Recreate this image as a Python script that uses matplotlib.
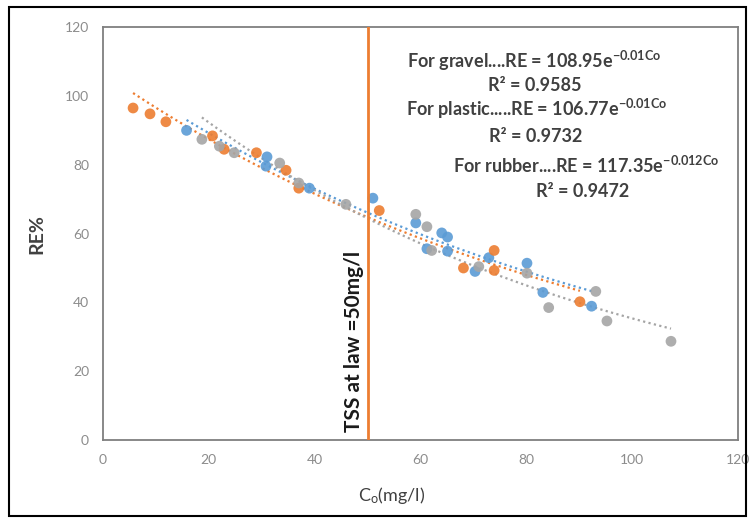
import numpy as np
import matplotlib.pyplot as plt
from matplotlib.patches import Rectangle

plt.rcParams['font.family'] = ['Lato', 'DejaVu Sans']
plt.rcParams['mathtext.default'] = 'regular'

# data
gravel_x = [15.8, 30.8, 31.0, 39.0, 51.0, 59.1, 61.2, 64.0, 65.1, 65.1, 70.3, 72.9, 80.1, 83.1, 92.3]
gravel_y = [90.0, 79.6, 82.3, 73.2, 70.3, 63.1, 55.6, 60.2, 59.0, 54.9, 49.0, 53.0, 51.4, 42.9, 38.9]

plastic_x = [5.7, 8.9, 11.9, 20.7, 22.9, 29.0, 34.6, 37.0, 52.2, 68.1, 73.9, 73.9, 90.1]
plastic_y = [96.5, 94.8, 92.5, 88.4, 84.5, 83.5, 78.4, 73.2, 66.7, 50.0, 55.1, 49.3, 40.2]

rubber_x = [18.7, 22.0, 24.8, 33.4, 37.0, 45.9, 59.1, 61.2, 62.1, 71.0, 80.1, 84.2, 93.1, 95.2, 107.3]
rubber_y = [87.4, 85.4, 83.5, 80.5, 74.7, 68.5, 65.6, 62.0, 55.1, 50.4, 48.5, 38.5, 43.2, 34.6, 28.7]

# exponential trendlines RE = a*exp(b*Co)
fit_a = [108.95, 106.77, 117.35]
fit_b = [-0.01, -0.01, -0.012]
r2 = ['0.9585', '0.9732', '0.9472']

ticks = [0, 20, 40, 60, 80, 100, 120]
tss_limit = 50

colors = ['#5B9BD5', '#ED7D31', '#A5A5A5']

fig = plt.figure(figsize=(7.51, 5.22), dpi=100)
ax = fig.add_axes([0.137, 0.157, 0.846, 0.791])

series = [(gravel_x, gravel_y), (plastic_x, plastic_y), (rubber_x, rubber_y)]
for (xs, ys), a, b, c in zip(series, fit_a, fit_b, colors):
    xx = np.linspace(min(xs), max(xs), 100)
    ax.plot(xx, a * np.exp(b * xx), linestyle=(0, (1, 1.5)), color=c, lw=1.6, zorder=2)
for (xs, ys), c in zip(series, colors):
    ax.scatter(xs, ys, s=60, color=c, alpha=0.9, edgecolors='none', zorder=3)

# TSS limit line
ax.axvline(tss_limit, color='#ED7D31', lw=2, zorder=4)
ax.text(tss_limit - 2.5, 2.3, 'TSS at law =50mg/l', rotation=90, ha='center', va='bottom',
        fontsize=15, fontweight='bold', color='#1a1a1a')

# equations
txt = dict(fontsize=13, fontweight='bold', color='#404040', ha='center', va='center')
ax.text(81.5, 110.3, 'For gravel....RE = 108.95e$^{-0.01Co}$', **txt)
ax.text(81.6, 102.9, 'R² = ' + r2[0], **txt)
ax.text(82, 96.2, 'For plastic.....RE = 106.77e$^{-0.01Co}$', **txt)
ax.text(81.8, 88.3, 'R² = ' + r2[1], **txt)
ax.text(91.2, 80, 'For rubber....RE = 117.35e$^{-0.012Co}$', **txt)
ax.text(90.6, 72.1, 'R² = ' + r2[2], **txt)

ax.set_xlim(0, 120)
ax.set_ylim(0, 120)
ax.set_xticks(ticks)
ax.set_yticks(ticks)
ax.tick_params(length=0, labelsize=10, labelcolor='#8c8c8c', pad=10)
for s in ax.spines.values():
    s.set_color('#7f7f7f')
    s.set_linewidth(1.3)

ax.set_ylabel('RE%', fontsize=14, fontweight='bold', color='#404040', labelpad=14)
ax.set_xlabel('C$_o$(mg/l)', fontsize=13, color='#404040', labelpad=8)
ax.xaxis.set_label_coords(0.455, -0.11)

fig.patches.append(Rectangle((9 / 751, 6 / 522), 737 / 751, 509 / 522, transform=fig.transFigure,
                             fill=False, edgecolor='black', lw=1.5))

fig.savefig('out.png', dpi=100)
